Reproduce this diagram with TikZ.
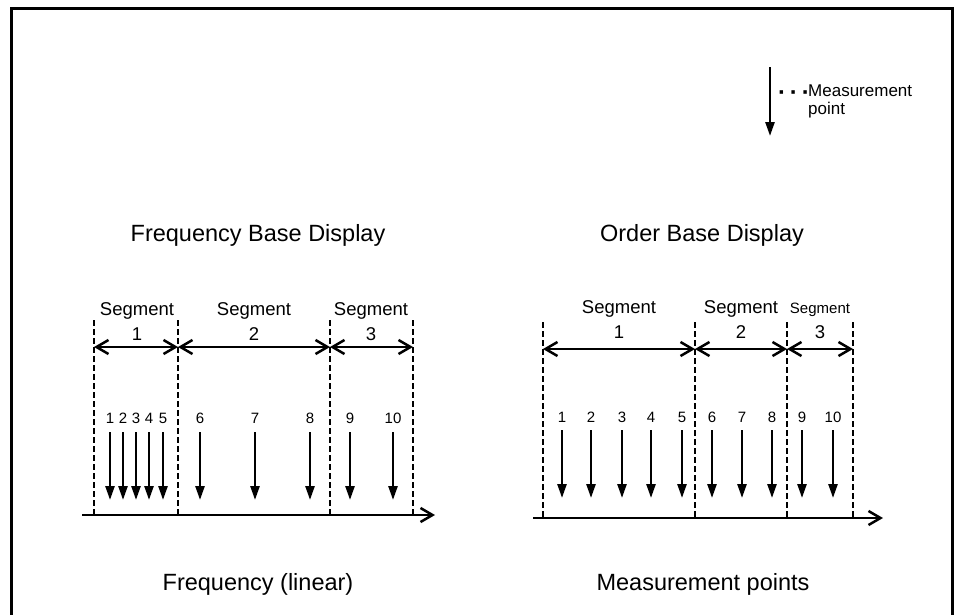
\documentclass[tikz,border=0pt]{standalone}
\usepackage{fontspec}
\setmainfont{Liberation Sans}
\usepackage{tikz}
\usetikzlibrary{
    positioning,
    arrows.meta
}

\begin{document}
\begin{tikzpicture}[
    x=1pt, y=-1pt,
    title/.style={font=\fontsize{23.5}{26}\selectfont, inner sep=0pt},
    seglabel/.style={
        font=\fontsize{18.5}{25}\selectfont,
        align=center,
        inner sep=0pt
    },
    numlabel/.style={font=\fontsize{15}{16}\selectfont, inner sep=0pt},
    legend/.style={font=\fontsize{17}{18}\selectfont, inner sep=0pt},
    boundary/.style={line width=2.5pt, dash pattern=on 6pt off 3pt},
    span/.style={
        {Straight Barb[length=12pt,width=14pt]}-{Straight Barb[length=12pt,width=14pt]},
        line width=2.5pt
    },
    meas/.style={-{Triangle[length=14pt,width=9pt]}, line width=2.5pt},
    axis/.style={-{Straight Barb[length=12pt,width=14pt]}, line width=2.5pt}
]
\useasboundingbox (0,0) rectangle (955,614);

% frame
\draw[line width=3pt] (11,640) -- (11,8) -- (952,8) -- (952,640);

% legend
\coordinate (lgtop) at (770,67);
\coordinate (lgtip) at (770,136);
\draw[meas] (lgtop) -- (lgtip);
\node[legend, anchor=north west, align=left] (lgtext) at (808,85) {Measurement\\point};
\node[legend, anchor=base, font=\fontsize{24}{24}\bfseries] (lgdots) at (794,100) {·\,·\,·};

% frequency base display
\node[title, anchor=base] (ftitle) at (258,241) {Frequency Base Display};
\foreach \x [count=\i] in {94,178,330,413} {
    \coordinate (fb\i) at (\x,320);
    \coordinate (fe\i) at (\x,515);
    \coordinate (fs\i) at (\x,347);
    \draw[boundary] (fb\i) -- (fe\i);
}
\foreach \a/\b in {1/2,2/3,3/4}
    \draw[span] (fs\a) -- (fs\b);
\node[seglabel, anchor=south] (fseg1) at (137,341) {Segment\\1};
\node[seglabel, anchor=south] (fseg2) at (254,341) {Segment\\2};
\node[seglabel, anchor=south] (fseg3) at (371,341) {Segment\\3};
\foreach \x [count=\i] in {110,123,136,149,163,200,255,310,350,393} {
    \node[numlabel, anchor=base] (fn\i) at (\x,423) {\i};
    \coordinate (ft\i) at (\x,500);
    \draw[meas] ([yshift=-9pt]fn\i.south) -- (ft\i);
}
\coordinate (fx0) at (82,515);
\coordinate (fx1) at (435,515);
\draw[axis] (fx0) -- (fx1);
\node[title, anchor=base] (fxlabel) at (258,590) {Frequency (linear)};

% order base display
\node[title, anchor=base] (otitle) at (702,241) {Order Base Display};
\foreach \x [count=\i] in {543,695,787,853} {
    \coordinate (ob\i) at (\x,322);
    \coordinate (oe\i) at (\x,518);
    \coordinate (os\i) at (\x,349);
    \draw[boundary] (ob\i) -- (oe\i);
}
\foreach \a/\b in {1/2,2/3,3/4}
    \draw[span] (os\a) -- (os\b);
\node[seglabel, anchor=south] (oseg1) at (619,339) {Segment\\1};
\node[seglabel, anchor=south] (oseg2) at (741,339) {Segment\\2};
\node[seglabel, anchor=south] (oseg3) at (820,339) {{\fontsize{15}{17}\selectfont Segment}\\3};
\foreach \x [count=\i] in {562,591,622,651,682,712,742,772,802,833} {
    \node[numlabel, anchor=base] (on\i) at (\x,422) {\i};
    \coordinate (ot\i) at (\x,498);
    \draw[meas] ([yshift=-8pt]on\i.south) -- (ot\i);
}
\coordinate (ox0) at (533,518);
\coordinate (ox1) at (883,518);
\draw[axis] (ox0) -- (ox1);
\node[title, anchor=base] (oxlabel) at (703,590) {Measurement points};

\end{tikzpicture}
\end{document}
